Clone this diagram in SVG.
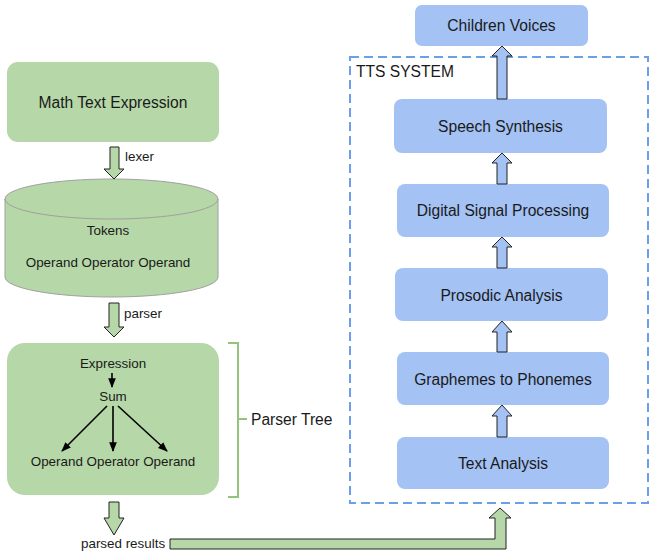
<svg xmlns="http://www.w3.org/2000/svg" width="651" height="555" viewBox="0 0 651 555">
  <style>
    text { font-family: "Liberation Sans", Arial, sans-serif; fill: #1a1a1a; }
    .green { fill: #b6d7a8; }
    .blue { fill: #a4c2f4; }
    .big { font-size: 15.6px; }
    .small { font-size: 13.4px; }
    .barrow { stroke: #222; stroke-width: 1; stroke-linejoin: miter; }
    .tree { stroke: #000; stroke-width: 1.6; fill: none; marker-end: url(#tip); }
  </style>
  <defs>
    <marker id="tip" viewBox="0 0 10 10" refX="9" refY="5" markerWidth="6" markerHeight="6" orient="auto" markerUnits="strokeWidth">
      <path d="M0,1 L10,5 L0,9 Z" fill="#000"/>
    </marker>
  </defs>
  <rect width="651" height="555" fill="#ffffff"/>

  <!-- left column -->
  <g id="math-text">
    <rect class="green" x="7" y="62" width="212" height="80" rx="11"/>
    <text class="big" x="113" y="108" text-anchor="middle">Math Text Expression</text>
  </g>

  <g id="tokens">
    <path class="green" d="M5,199 A106.5,20 0 0 1 218,199 L218,277 A106.5,20 0 0 1 5,277 Z" stroke="#a0a0a0" stroke-width="1"/>
    <path d="M5,199 A106.5,20 0 0 0 218,199" fill="none" stroke="#a0a0a0" stroke-width="1"/>
    <text class="small" x="108" y="234.5" text-anchor="middle">Tokens</text>
    <text class="small" x="108" y="266.5" text-anchor="middle">Operand Operator Operand</text>
  </g>

  <g id="parser-tree">
    <rect class="green" x="7" y="343" width="212" height="152" rx="18"/>
    <text class="small" x="113" y="367.5" text-anchor="middle">Expression</text>
    <text class="small" x="113" y="400.5" text-anchor="middle">Sum</text>
    <text class="small" x="113" y="465.5" text-anchor="middle">Operand Operator Operand</text>
    <line class="tree" x1="112" y1="373" x2="112" y2="387"/>
    <line class="tree" x1="107" y1="406" x2="62" y2="451"/>
    <line class="tree" x1="113" y1="406" x2="113" y2="451"/>
    <line class="tree" x1="118" y1="406" x2="167" y2="451"/>
  </g>

  <g id="parser-tree-label">
    <path d="M228,343 H238 V497 H228 M238,419 H247" fill="none" stroke="#93c47d" stroke-width="2"/>
    <text class="big" x="251" y="425">Parser Tree</text>
  </g>

  <!-- TTS system -->
  <g id="tts-system">
    <rect x="350" y="57" width="298" height="446" fill="none" stroke="#6d9eeb" stroke-width="2" stroke-dasharray="9,5"/>
    <text class="big" x="356" y="77" fill="#000">TTS SYSTEM</text>
  </g>

  <g id="children-voices">
    <rect class="blue" x="415" y="5" width="173" height="41" rx="7"/>
    <text class="big" x="501.5" y="31" text-anchor="middle">Children Voices</text>
  </g>
  <g id="speech-synthesis">
    <rect class="blue" x="394" y="99" width="213" height="54" rx="8"/>
    <text class="big" x="500.5" y="132" text-anchor="middle">Speech Synthesis</text>
  </g>
  <g id="dsp">
    <rect class="blue" x="397" y="184" width="212" height="53" rx="8"/>
    <text class="big" x="503" y="216" text-anchor="middle">Digital Signal Processing</text>
  </g>
  <g id="prosodic-analysis">
    <rect class="blue" x="395" y="268" width="213" height="53" rx="8"/>
    <text class="big" x="501.5" y="301" text-anchor="middle">Prosodic Analysis</text>
  </g>
  <g id="graphemes-to-phonemes">
    <rect class="blue" x="397" y="352" width="212" height="53" rx="8"/>
    <text class="big" x="503" y="385" text-anchor="middle">Graphemes to Phonemes</text>
  </g>
  <g id="text-analysis">
    <rect class="blue" x="397" y="437" width="212" height="52" rx="8"/>
    <text class="big" x="503" y="469" text-anchor="middle">Text Analysis</text>
  </g>

  <!-- connectors -->
  <g id="connectors">
    <polygon class="green barrow" points="110,147 119,147 119,169 124,169 114,179 104,169 110,169"/>
    <text class="small" x="125" y="161">lexer</text>
    <polygon class="green barrow" points="109,303 119,303 119,327 124,327 114,337 104,327 109,327"/>
    <text class="small" x="124" y="318">parser</text>
    <polygon class="green barrow" points="109,502 119,502 119,518 124,518 114,535 104,518 109,518"/>
    <text class="small" x="81" y="548">parsed results</text>
    <polygon class="green barrow" points="170,539 495,539 495,518 489,518 500,508 511,518 506,518 506,549 170,549"/>

    <polygon class="blue barrow" points="497,99 507,99 507,56 512,56 502,46 492,56 497,56"/>
    <polygon class="blue barrow" points="497,184 507,184 507,163 512,163 502,153 492,163 497,163"/>
    <polygon class="blue barrow" points="497,268 507,268 507,247 512,247 502,237 492,247 497,247"/>
    <polygon class="blue barrow" points="497,352 507,352 507,332 512,332 502,321 492,332 497,332"/>
    <polygon class="blue barrow" points="497,437 507,437 507,416 512,416 502,405 492,416 497,416"/>
  </g>
</svg>
